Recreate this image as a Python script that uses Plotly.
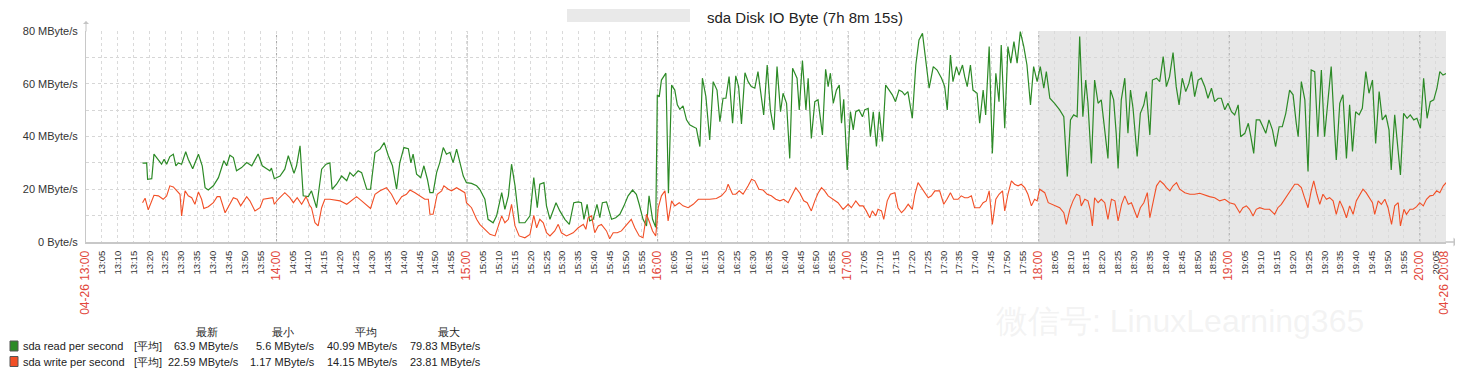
import plotly.graph_objects as go
from datetime import datetime, timedelta

# ---------------- data ----------------
START = datetime(2017, 4, 26, 13, 0, 0)
END = START + timedelta(minutes=428.25)
WORK_END = "18:00"

# minutes after 13:00 and MByte/s
read_minutes = [
    17.8, 19.1, 19.4, 20.7, 21.4, 22.8, 23.8, 24.6, 25.4, 26.4,
    27.5, 28.3, 29.1, 30.1, 31.4, 32.2, 33.6, 35.4, 36.6, 37.5,
    38.5, 40.1, 41.7, 43.4, 44.3, 45.3, 46.4, 47.4, 49.0, 50.6,
    52.2, 54.2, 55.5, 56.9, 57.9, 58.4, 59.3, 61.1, 62.6, 63.7,
    64.7, 65.5, 66.3, 67.4, 68.4, 70.0, 71.0, 72.6, 74.2, 75.6,
    76.8, 77.5, 78.9, 80.5, 82.1, 83.1, 84.2, 85.7, 86.8, 88.4,
    89.6, 91.0, 92.6, 93.9, 95.2, 96.5, 97.8, 98.8, 100.1, 101.5,
    102.3, 103.0, 104.1, 105.4, 106.4, 107.5, 108.3, 109.3, 110.4, 111.4,
    112.5, 113.5, 114.6, 115.6, 116.7, 117.7, 118.8, 119.8, 121.4, 123.0,
    124.0, 125.6, 126.6, 128.2, 129.3, 130.9, 131.9, 133.0, 134.0, 135.1,
    136.4, 138.2, 139.8, 141.0, 142.1, 142.9, 144.2, 145.0, 146.1, 148.0,
    149.2, 150.8, 152.2, 153.6, 155.0, 156.0, 156.8, 157.8, 158.6, 159.7,
    160.9, 161.8, 162.6, 163.9, 165.5, 166.8, 168.1, 169.4, 170.7, 172.1,
    173.3, 174.2, 175.4, 176.5, 177.3, 178.4, 179.4, 179.9, 180.5, 181.2,
    182.0, 182.6, 183.4, 184.4, 185.4, 186.2, 187.0, 188.0, 189.1, 190.1,
    191.2, 192.2, 193.3, 194.1, 195.2, 196.4, 197.5, 198.7, 199.6, 200.6,
    201.5, 202.5, 203.6, 204.6, 205.5, 206.4, 207.5, 208.5, 209.5, 210.6,
    211.6, 212.4, 213.4, 214.5, 215.5, 216.6, 217.6, 218.7, 219.5, 220.6,
    221.6, 222.5, 223.9, 224.6, 225.6, 226.7, 227.4, 228.4, 229.5, 230.5,
    231.9, 232.9, 233.7, 234.4, 235.3, 236.3, 237.2, 237.9, 238.6, 239.7,
    240.7, 241.6, 242.4, 243.4, 244.5, 245.2, 246.3, 247.0, 247.9, 248.9,
    249.8, 250.8, 251.8, 252.9, 253.9, 254.9, 256.0, 257.0, 257.8, 258.8,
    260.2, 261.3, 262.3, 263.4, 264.5, 265.5, 266.8, 268.0, 269.4, 270.4,
    271.2, 272.2, 273.0, 274.1, 274.9, 276.0, 276.7, 277.5, 278.5, 279.3,
    280.6, 281.4, 282.5, 283.3, 284.4, 285.4, 286.5, 287.5, 288.2, 289.3,
    290.3, 291.2, 292.2, 293.2, 294.2, 295.3, 296.3, 297.4, 298.4, 299.5,
    300.5, 301.6, 302.4, 303.5, 305.0, 306.6, 307.9, 309.0, 310.0, 311.0,
    312.1, 312.9, 313.9, 314.8, 315.5, 316.6, 317.6, 318.7, 319.7, 320.8,
    321.8, 322.6, 323.6, 324.4, 325.0, 326.0, 327.1, 328.1, 328.9, 329.7,
    331.0, 332.0, 333.1, 333.9, 335.0, 335.8, 337.1, 338.1, 339.2, 340.2,
    341.2, 342.3, 343.3, 344.2, 345.2, 346.3, 347.3, 348.1, 349.1, 350.2,
    351.2, 352.3, 353.3, 354.4, 355.4, 356.5, 357.5, 358.6, 359.6, 360.7,
    361.7, 362.8, 363.6, 364.9, 366.0, 366.7, 367.7, 368.5, 369.6, 370.6,
    371.5, 372.5, 373.6, 374.6, 375.7, 376.7, 377.8, 379.0, 380.1, 381.1,
    381.7, 382.7, 383.8, 384.8, 385.8, 386.9, 387.9, 389.0, 390.0, 391.1,
    392.1, 393.2, 393.7, 394.8, 395.8, 396.9, 397.9, 398.8, 399.8, 400.9,
    401.9, 403.0, 404.0, 405.1, 406.1, 407.2, 408.2, 409.3, 410.3, 411.0,
    412.1, 412.8, 413.9, 414.9, 416.0, 417.0, 418.1, 419.1, 420.2, 421.2,
    422.3, 423.3, 424.4, 425.4, 426.3, 427.3, 428.3,
]
read_mbps = [
    29.9, 30.0, 23.8, 24.0, 33.3, 30.8, 29.5, 31.4, 29.5, 32.4,
    33.3, 28.9, 30.0, 29.5, 34.2, 31.4, 27.8, 33.3, 28.9, 20.6,
    19.7, 21.3, 24.4, 30.8, 28.9, 32.9, 32.0, 27.0, 28.2, 30.1,
    28.9, 33.4, 28.9, 27.8, 27.0, 28.0, 24.0, 25.0, 27.6, 32.7,
    28.9, 26.0, 28.9, 36.5, 17.5, 17.2, 19.4, 13.0, 27.6, 29.5,
    30.0, 20.0, 21.9, 25.0, 23.2, 26.3, 25.0, 27.0, 26.3, 20.0,
    20.0, 33.9, 35.2, 37.7, 32.7, 28.9, 20.0, 30.0, 35.8, 35.4,
    30.0, 33.3, 25.7, 24.4, 28.9, 23.8, 18.7, 18.7, 26.3, 30.1,
    35.8, 33.3, 34.0, 30.1, 35.2, 30.8, 25.0, 22.5, 22.2, 21.3,
    20.0, 16.2, 8.6, 7.3, 9.9, 18.7, 12.4, 17.5, 29.5, 21.3,
    7.3, 7.3, 9.9, 24.4, 13.0, 21.9, 22.5, 13.7, 8.6, 14.9,
    11.8, 8.6, 6.7, 14.9, 15.2, 14.9, 8.6, 14.3, 8.0, 8.6,
    14.3, 9.2, 14.9, 15.2, 8.6, 9.2, 10.5, 13.7, 17.5, 19.7,
    18.1, 14.3, 8.6, 6.1, 17.5, 8.6, 5.6, 55.8, 55.0, 61.4,
    62.7, 64.0, 18.5, 59.5, 57.6, 52.0, 50.3, 51.6, 46.3, 44.4,
    43.7, 43.1, 36.2, 62.1, 55.1, 38.7, 60.8, 57.6, 45.6, 54.5,
    54.5, 62.7, 45.0, 63.0, 58.9, 44.8, 64.2, 60.8, 58.9, 58.3,
    64.6, 57.6, 48.2, 67.1, 50.1, 42.5, 66.5, 49.4, 56.4, 52.6,
    31.7, 65.9, 62.1, 50.1, 68.8, 50.1, 62.1, 39.3, 53.2, 53.9,
    40.6, 65.5, 58.9, 64.0, 52.6, 57.6, 59.5, 45.0, 54.1, 27.3,
    49.4, 42.5, 49.4, 50.1, 47.5, 50.1, 50.7, 39.9, 49.4, 36.2,
    49.4, 38.1, 59.5, 57.6, 55.8, 53.2, 57.6, 57.0, 55.8, 57.0,
    46.9, 67.1, 76.6, 79.1, 67.8, 58.3, 66.5, 65.2, 62.1, 58.9,
    50.1, 70.9, 60.8, 66.5, 63.3, 67.1, 62.7, 58.9, 67.1, 57.6,
    56.4, 45.0, 57.6, 48.2, 74.1, 33.6, 64.0, 53.2, 74.7, 43.1,
    74.1, 67.8, 76.0, 67.8, 79.8, 74.1, 67.1, 52.0, 66.5, 60.8,
    66.5, 58.3, 64.6, 54.5, 52.6, 50.1, 47.5, 24.8, 46.3, 48.2,
    47.5, 77.9, 47.5, 61.4, 52.6, 29.8, 61.4, 52.6, 53.9, 41.8,
    31.7, 57.6, 53.9, 41.2, 27.9, 53.9, 62.1, 41.2, 57.6, 50.7,
    32.4, 48.8, 52.0, 57.0, 40.6, 61.4, 62.1, 60.8, 70.3, 58.9,
    62.7, 71.8, 58.9, 52.0, 62.1, 57.0, 60.2, 64.6, 55.1, 61.4,
    62.1, 58.9, 54.5, 58.3, 53.2, 54.5, 54.5, 50.1, 52.6, 49.4,
    48.2, 52.0, 39.9, 41.2, 45.0, 40.6, 33.6, 46.3, 46.3, 43.7,
    41.2, 46.3, 42.5, 36.2, 43.7, 43.7, 48.8, 57.6, 55.8, 45.0,
    39.9, 60.8, 53.9, 26.7, 65.2, 64.6, 39.9, 65.2, 39.9, 53.9,
    66.5, 41.2, 31.1, 52.6, 55.8, 31.7, 52.0, 34.3, 49.4, 48.2,
    50.7, 64.6, 56.4, 61.4, 37.4, 57.0, 46.3, 48.2, 42.5, 27.3,
    48.2, 39.3, 25.4, 48.8, 46.9, 48.2, 46.3, 46.9, 43.1, 62.1,
    46.9, 53.2, 53.9, 58.3, 64.6, 63.3, 63.9,
]

write_minutes = [
    17.8, 18.6, 19.6, 20.7, 21.4, 22.8, 24.3, 25.4, 26.4, 27.5,
    28.5, 29.6, 30.1, 31.2, 32.2, 33.3, 34.3, 35.4, 36.4, 37.1,
    38.5, 40.1, 41.3, 42.2, 43.8, 45.3, 46.4, 47.6, 48.7, 50.6,
    51.6, 53.2, 54.8, 55.8, 57.7, 58.8, 59.3, 60.5, 62.6, 64.2,
    65.3, 66.5, 67.9, 69.3, 70.5, 71.0, 72.1, 73.1, 74.2, 75.2,
    76.8, 78.4, 80.0, 82.1, 83.6, 85.2, 86.8, 88.4, 89.6, 91.0,
    92.6, 94.6, 96.2, 97.8, 99.4, 100.9, 102.0, 103.6, 105.1, 106.7,
    107.8, 108.3, 109.3, 110.6, 112.0, 112.7, 114.1, 115.1, 116.7, 118.3,
    119.3, 119.8, 121.4, 123.0, 124.0, 125.6, 127.2, 128.8, 129.8, 130.9,
    131.9, 133.0, 134.0, 135.1, 136.4, 138.2, 139.8, 141.0, 141.9, 142.9,
    144.0, 145.0, 146.1, 147.6, 148.7, 149.7, 151.3, 153.4, 155.0, 156.6,
    157.4, 158.1, 159.2, 160.2, 161.3, 162.3, 163.9, 164.9, 166.0, 167.3,
    168.6, 170.2, 171.7, 172.8, 174.2, 175.4, 176.5, 177.5, 178.4, 179.4,
    180.2, 181.2, 182.3, 183.3, 184.4, 185.4, 186.8, 188.0, 189.6, 191.2,
    192.8, 194.3, 196.4, 198.5, 200.1, 201.5, 202.2, 203.6, 204.6, 205.7,
    206.9, 208.5, 209.6, 210.6, 211.9, 213.2, 214.5, 215.8, 217.2, 218.5,
    219.7, 221.1, 222.1, 223.5, 224.8, 226.0, 227.1, 228.4, 229.5, 230.5,
    231.6, 232.6, 233.7, 235.3, 236.8, 238.4, 240.0, 241.0, 242.4, 243.6,
    244.7, 245.7, 246.8, 247.6, 248.7, 249.4, 250.5, 251.2, 252.3, 253.3,
    254.7, 255.7, 256.8, 257.8, 258.9, 260.2, 261.0, 262.0, 263.1, 264.1,
    265.2, 266.2, 267.3, 268.8, 270.1, 271.1, 272.2, 273.2, 274.6, 275.6,
    276.7, 277.7, 278.8, 279.8, 281.4, 282.5, 283.5, 284.4, 285.4, 286.5,
    287.5, 288.6, 289.3, 290.3, 291.4, 292.4, 293.5, 294.5, 295.6, 296.6,
    297.7, 298.7, 299.5, 300.3, 301.9, 303.0, 304.0, 305.1, 306.6, 307.9,
    308.7, 309.8, 310.8, 311.9, 312.9, 313.4, 314.5, 315.5, 316.3, 316.9,
    317.6, 318.7, 319.7, 320.8, 321.8, 322.9, 324.0, 325.0, 326.1, 327.1,
    328.2, 329.2, 329.9, 331.0, 332.0, 333.1, 334.2, 335.0, 336.1, 337.1,
    338.2, 339.4, 340.2, 341.3, 342.3, 343.4, 344.4, 346.0, 347.6, 349.1,
    350.7, 352.3, 353.8, 355.4, 357.0, 358.6, 360.1, 361.7, 363.3, 364.3,
    365.4, 366.4, 367.5, 368.5, 369.6, 371.1, 372.7, 374.3, 375.3, 376.4,
    377.4, 378.5, 379.5, 380.6, 381.6, 382.7, 383.7, 384.8, 385.8, 386.6,
    387.6, 388.5, 389.5, 390.6, 391.6, 392.7, 393.7, 394.8, 395.8, 396.9,
    397.9, 399.0, 400.0, 401.1, 402.1, 403.1, 404.2, 405.1, 405.8, 406.9,
    407.9, 409.0, 410.0, 411.1, 412.1, 413.2, 413.9, 415.0, 415.8, 416.9,
    417.9, 419.0, 420.0, 421.1, 422.1, 423.2, 424.2, 425.3, 426.3, 427.4,
    428.4,
]
write_mbps = [
    14.9, 16.6, 12.2, 15.6, 17.7, 17.5, 16.2, 17.5, 21.3, 20.9,
    19.4, 18.1, 9.9, 19.4, 17.5, 16.8, 14.3, 19.0, 16.2, 12.7,
    13.4, 14.9, 17.2, 17.2, 11.1, 14.3, 16.8, 16.2, 13.7, 17.2,
    15.6, 11.8, 13.0, 16.2, 16.5, 16.8, 14.3, 16.2, 18.7, 16.8,
    14.9, 16.8, 14.3, 17.2, 13.7, 13.0, 7.3, 6.1, 13.0, 16.2,
    16.2, 15.9, 15.6, 14.3, 15.6, 17.2, 15.6, 13.9, 12.7, 18.1,
    19.4, 20.6, 18.1, 14.3, 17.2, 18.1, 19.7, 18.7, 17.5, 16.2,
    16.2, 10.5, 10.5, 18.1, 19.4, 21.3, 20.0, 19.4, 20.6, 19.4,
    18.7, 14.9, 13.0, 8.6, 6.7, 4.8, 2.9, 2.3, 6.1, 9.9,
    7.3, 8.6, 14.3, 6.1, 2.3, 1.6, 2.9, 10.1, 5.4, 8.6,
    7.3, 3.5, 2.3, 4.2, 6.7, 3.5, 2.3, 3.5, 5.4, 6.7,
    4.8, 9.2, 9.9, 3.5, 6.1, 6.7, 4.2, 1.2, 3.5, 3.5,
    4.2, 6.7, 8.6, 5.4, 2.3, 1.6, 10.5, 7.3, 4.2, 2.3,
    13.0, 17.5, 19.4, 8.0, 15.6, 13.7, 14.9, 13.7, 13.0, 14.3,
    16.2, 16.2, 16.2, 16.5, 17.5, 19.4, 21.9, 18.1, 18.1, 19.4,
    18.1, 21.3, 23.8, 23.2, 20.0, 19.7, 18.1, 17.5, 16.2, 15.6,
    16.2, 14.9, 17.5, 20.6, 18.5, 15.6, 14.9, 11.8, 15.6, 18.5,
    20.6, 19.4, 17.5, 16.2, 14.9, 12.4, 14.3, 13.0, 15.6, 13.7,
    13.7, 11.8, 9.2, 11.8, 9.9, 12.4, 11.8, 8.6, 15.6, 18.1,
    18.7, 13.0, 11.1, 12.4, 14.3, 12.4, 18.1, 22.5, 20.6, 18.7,
    16.8, 17.5, 19.4, 19.4, 14.3, 16.2, 18.7, 16.2, 16.2, 17.5,
    16.8, 16.8, 17.5, 13.0, 13.0, 14.9, 15.6, 19.4, 6.7, 16.2,
    18.1, 19.4, 11.8, 18.1, 23.2, 21.9, 21.3, 21.9, 20.6, 18.1,
    13.7, 16.2, 15.6, 20.0, 18.7, 14.9, 14.3, 13.7, 13.0, 11.1,
    6.7, 12.4, 15.6, 18.1, 17.5, 13.7, 16.2, 15.6, 11.8, 6.1,
    16.8, 14.9, 16.2, 14.9, 8.6, 16.2, 15.6, 8.0, 14.3, 17.5,
    14.3, 14.9, 12.4, 9.2, 13.0, 14.9, 18.7, 9.2, 15.6, 21.3,
    23.2, 21.9, 20.6, 19.4, 21.3, 22.5, 20.0, 18.7, 18.1, 18.1,
    18.5, 17.7, 17.2, 16.8, 15.6, 16.2, 14.9, 14.3, 11.1, 13.0,
    13.7, 12.4, 9.9, 12.4, 13.0, 12.4, 12.4, 10.5, 13.0, 14.3,
    16.2, 18.1, 20.0, 21.9, 21.9, 20.6, 16.8, 13.0, 19.4, 23.2,
    18.1, 14.3, 18.1, 16.2, 16.8, 15.6, 10.5, 15.6, 13.0, 9.2,
    13.7, 10.5, 15.6, 18.1, 20.0, 18.7, 16.8, 14.9, 10.5, 15.6,
    14.3, 16.2, 13.0, 6.7, 13.7, 14.9, 6.1, 12.4, 10.5, 12.4,
    12.4, 13.4, 14.9, 13.7, 16.2, 17.5, 17.7, 19.4, 18.7, 21.3,
    22.6,
]

x_tick_labels = [
    "04-26 13:00", "13:05", "13:10", "13:15", "13:20", "13:25", "13:30", "13:35", "13:40", "13:45", "13:50", "13:55",
    "14:00", "14:05", "14:10", "14:15", "14:20", "14:25", "14:30", "14:35", "14:40", "14:45", "14:50", "14:55",
    "15:00", "15:05", "15:10", "15:15", "15:20", "15:25", "15:30", "15:35", "15:40", "15:45", "15:50", "15:55",
    "16:00", "16:05", "16:10", "16:15", "16:20", "16:25", "16:30", "16:35", "16:40", "16:45", "16:50", "16:55",
    "17:00", "17:05", "17:10", "17:15", "17:20", "17:25", "17:30", "17:35", "17:40", "17:45", "17:50", "17:55",
    "18:00", "18:05", "18:10", "18:15", "18:20", "18:25", "18:30", "18:35", "18:40", "18:45", "18:50", "18:55",
    "19:00", "19:05", "19:10", "19:15", "19:20", "19:25", "19:30", "19:35", "19:40", "19:45", "19:50", "19:55",
    "20:00", "20:05", "04-26 20:08",
]
y_tick_vals = [0, 20, 40, 60, 80]
y_tick_text = ["0 Byte/s", "20 MByte/s", "40 MByte/s", "60 MByte/s", "80 MByte/s"]
y_minor_vals = [10, 30, 50, 70]

title_text = "sda Disk IO Byte (7h 8m 15s)"
legend_names = ["sda read per second", "sda write per second"]
legend_func = "[平均]"
stat_headers = ["最新", "最小", "平均", "最大"]
read_stats = ["63.9 MByte/s", "5.6 MByte/s", "40.99 MByte/s", "79.83 MByte/s"]
write_stats = ["22.59 MByte/s", "1.17 MByte/s", "14.15 MByte/s", "23.81 MByte/s"]
watermark_text = "微信号: LinuxLearning365"

# ---------------- styling / layout ----------------
GREEN = "#2c8a26"
ORANGE = "#f24f26"
RED_LABEL = "#e2473b"
FONT = "Liberation Sans, Arial, sans-serif"

# the page adds an 8 px body margin, so the figure is sized/offset to compensate
OFF = 8
W, H = 1463 - OFF, 386 - OFF
ML, MR, MT, MB = 86 - OFF, 17, 31 - OFF, 144
PW, PH = W - ML - MR, H - MT - MB


def fx(px):  # page pixel -> paper x
    return (px - OFF - ML) / PW


def fy(py):  # page pixel -> paper y
    return (H - MB - (py - OFF)) / PH


def at(label):
    hh, mm = label[-5:].split(":")
    return START.replace(hour=int(hh), minute=int(mm))


read_x = [START + timedelta(minutes=m) for m in read_minutes]
write_x = [START + timedelta(minutes=m) for m in write_minutes]

tick_x = [at(l) for l in x_tick_labels]
tick_text = []
hour_lines = []
for l, t in zip(x_tick_labels, tick_x):
    if l.endswith(":00") or "-" in l:
        tick_text.append(f'<span style="color:{RED_LABEL};font-size:12px">{l}</span>')
        if l.endswith(":00") and "-" not in l:
            hour_lines.append(t)
    else:
        tick_text.append(l)

fig = go.Figure()
fig.add_trace(go.Scatter(x=read_x, y=read_mbps, mode="lines",
                         line=dict(color=GREEN, width=1.2), name=legend_names[0],
                         showlegend=False))
fig.add_trace(go.Scatter(x=write_x, y=write_mbps, mode="lines",
                         line=dict(color=ORANGE, width=1.1), name=legend_names[1],
                         showlegend=False))

shapes = [
    dict(type="rect", xref="x", yref="paper", x0=at(WORK_END), x1=END, y0=0, y1=1,
         fillcolor="#e7e7e7", line=dict(width=0), layer="below"),
]
for t in hour_lines:
    shapes.append(dict(type="line", xref="x", yref="paper", x0=t, x1=t, y0=0, y1=1,
                       line=dict(color="#a9a9a9", width=1, dash="dot"), layer="between"))
# blurred host name in the title
shapes.append(dict(type="rect", xref="paper", yref="paper", x0=fx(567), x1=fx(690),
                   y0=fy(22), y1=fy(9), fillcolor="#e9e9e9", line=dict(width=0)))
# legend colour squares
for i, col in enumerate([GREEN, ORANGE]):
    yc = 346 + i * 15.5
    shapes.append(dict(type="rect", xref="paper", yref="paper", x0=fx(10), x1=fx(18),
                       y0=fy(yc + 5), y1=fy(yc - 5), fillcolor=col,
                       line=dict(color="#555555", width=1)))

ann = []
ann.append(dict(xref="paper", yref="paper", x=fx(805), y=fy(8), text=title_text,
                showarrow=False, xanchor="center", yanchor="top", borderpad=0,
                font=dict(family=FONT, size=15, color="#222222")))
# axis arrows
ann.append(dict(xref="paper", yref="paper", x=0, y=fy(21), ax=0, ay=12, text="",
                showarrow=True, arrowhead=1, arrowsize=1, arrowwidth=1, arrowcolor="#c4c4c4"))
ann.append(dict(xref="paper", yref="paper", x=fx(1458), y=0, ax=-14, ay=0, text="",
                showarrow=True, arrowhead=1, arrowsize=1, arrowwidth=1.5, arrowcolor="#c4c4c4"))
# watermark (blurred in the original)
ann.append(dict(xref="paper", yref="paper", x=fx(1180), y=fy(321), text=watermark_text,
                showarrow=False, xanchor="center", yanchor="middle",
                font=dict(family=FONT, size=32, color="rgba(215,215,215,0.3)")))

LF = dict(family=FONT, size=11, color="#222222")
col_right = [241, 317, 400, 483]
for h, xr in zip(stat_headers, col_right):
    ann.append(dict(xref="paper", yref="paper", x=fx(xr - 34), y=fy(332), text=h,
                    showarrow=False, xanchor="center", yanchor="middle", font=LF))
for i, (name, stats) in enumerate(zip(legend_names, [read_stats, write_stats])):
    yc = 346 + i * 15.5
    ann.append(dict(xref="paper", yref="paper", x=fx(21), y=fy(yc), text=name,
                    showarrow=False, xanchor="left", yanchor="middle", font=LF))
    ann.append(dict(xref="paper", yref="paper", x=fx(132), y=fy(yc), text=legend_func,
                    showarrow=False, xanchor="left", yanchor="middle", font=LF))
    for s, xr in zip(stats, col_right):
        ann.append(dict(xref="paper", yref="paper", x=fx(xr), y=fy(yc), text=s,
                        showarrow=False, xanchor="right", yanchor="middle", font=LF))

fig.update_layout(
    width=W, height=H,
    margin=dict(l=ML, r=MR, t=MT, b=MB, pad=0, autoexpand=False),
    paper_bgcolor="white", plot_bgcolor="white",
    font=dict(family=FONT, color="#333333"),
    showlegend=False,
    shapes=shapes, annotations=ann,
    xaxis=dict(
        type="date", range=[START, END], tickmode="array", tickvals=tick_x, ticktext=tick_text,
        tickangle=-90, tickfont=dict(family=FONT, size=9.5, color="#333333"),
        showgrid=True, gridcolor="#dadada", griddash="dot", gridwidth=1,
        showline=True, linecolor="#c8c8c8", linewidth=2, ticks="", zeroline=False,
        ticklabelstandoff=3, fixedrange=True, automargin=False,
    ),
    yaxis=dict(
        range=[0, 80], tickmode="array", tickvals=y_tick_vals, ticktext=y_tick_text,
        tickfont=dict(family=FONT, size=11, color="#333333"),
        showgrid=True, gridcolor="#d6d6d6", griddash="dot", gridwidth=1,
        minor=dict(tickvals=y_minor_vals, showgrid=True, gridcolor="#d6d6d6", griddash="dot"),
        showline=True, linecolor="#c8c8c8", linewidth=1, ticks="", zeroline=False,
        ticklabelstandoff=5, fixedrange=True, automargin=False,
    ),
)

fig.write_html("out.html")
